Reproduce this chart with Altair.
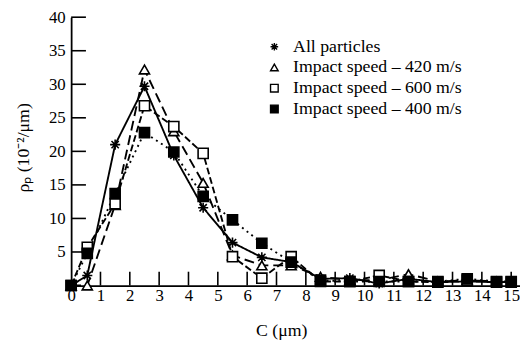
import altair as alt
import pandas as pd

# ---- data ----
C = [0, 0.55, 1.5, 2.5, 3.5, 4.5, 5.5, 6.5, 7.5, 8.5, 9.5, 10.5, 11.5, 12.5, 13.5, 14.5, 15.0]
all_particles = [0, 1.5, 21.0, 29.7, 19.4, 11.6, 6.4, 4.2, 3.5, 1.0, 1.1, 0.3, 1.0, 0.5, 0.6, 0.5, 0.5]
speed_420 = [0, 0, 12.0, 32.2, 23.0, 15.3, 4.5, 3.0, 3.0, 1.3, 0.8, 0.8, 1.7, 0.6, 0.8, 0.6, 0.6]
speed_600 = [0, 5.7, 12.2, 26.8, 23.7, 19.7, 4.3, 1.1, 4.3, 0.6, 0.6, 1.5, 0.6, 0.5, 0.8, 0.5, 0.5]
speed_400 = [0, 4.8, 13.7, 22.8, 19.9, 13.3, 9.8, 6.3, 3.5, 0.8, 0.6, 0.6, 0.6, 0.6, 1.0, 0.6, 0.6]

SERIES = ["All particles", "Impact speed \u2013 420 m/s", "Impact speed \u2013 600 m/s", "Impact speed \u2013 400 m/s"]
X_TICKS = list(range(0, 16))
Y_TICKS = [5, 10, 15, 20, 25, 30, 35, 40]

rows = []
for name, vals in zip(SERIES, [all_particles, speed_420, speed_600, speed_400]):
    for c, v in zip(C, vals):
        rows.append({"C": c, "rho": v, "series": name, "style": name})
df = pd.DataFrame(rows)
xt = pd.DataFrame({"C": X_TICKS[1:]})
yt = pd.DataFrame({"rho": Y_TICKS})

FONT = "Liberation Serif"
W, H = 455, 272
xscale = alt.Scale(domain=[0, 15.3], nice=False, zero=False)
yscale = alt.Scale(domain=[0, 40], nice=False)

xaxis = alt.Axis(values=X_TICKS, tickSize=0, grid=False, labelFont=FONT, labelFontSize=17,
                 labelPadding=2, domainColor="black", domainWidth=1.8, labelColor="black",
                 title="C (\u03bcm)", titleFont=FONT, titleFontSize=18, titleFontWeight="normal",
                 titleX=213, titleY=46, titleBaseline="middle", titleAlign="center",
                 titleColor="black", labelFlush=False)
yaxis = alt.Axis(values=Y_TICKS, tickSize=0, grid=False, labelFont=FONT, labelFontSize=17,
                 labelPadding=6, domainColor="black", domainWidth=1.8, labelColor="black",
                 title="\u03c1\u209a (10\u207b\u00b2/\u03bcm)", titleFont=FONT, titleFontSize=18,
                 titleFontWeight="normal", titleX=-48, titleY=132, titleAngle=270,
                 titleBaseline="middle", titleAlign="center", titleColor="black")

STAR = "M-1,0L1,0M0,-1L0,1M-0.72,-0.72L0.72,0.72M-0.72,0.72L0.72,-0.72"
SHAPES = [STAR, "triangle-up", "square", "square"]
FILLS = ["black", "white", "white", "black"]
DASHES = [[1, 0], [10, 5], [7, 3], [2, 4]]

lines = alt.Chart(df).mark_line(color="black", strokeWidth=1.9).encode(
    x=alt.X("C:Q", scale=xscale, axis=xaxis),
    y=alt.Y("rho:Q", scale=yscale, axis=yaxis),
    detail="style:N",
    strokeDash=alt.StrokeDash("style:N", scale=alt.Scale(domain=SERIES, range=DASHES), legend=None),
)

points = alt.Chart(df).mark_point(filled=True, stroke="black", strokeWidth=1.6, opacity=1, size=105).encode(
    x=alt.X("C:Q", scale=xscale, axis=xaxis),
    y=alt.Y("rho:Q", scale=yscale, axis=yaxis),
    shape=alt.Shape("series:N", scale=alt.Scale(domain=SERIES, range=SHAPES), legend=None),
    fill=alt.Fill("series:N", scale=alt.Scale(domain=SERIES, range=FILLS), legend=None),
)

xticks = alt.Chart(xt).mark_rule(color="black", strokeWidth=1.6).encode(
    x=alt.X("C:Q", scale=xscale, axis=xaxis),
    y=alt.value(H),
    y2=alt.value(H - 14),
)
yticks = alt.Chart(yt).mark_rule(color="black", strokeWidth=1.6).encode(
    y=alt.Y("rho:Q", scale=yscale, axis=yaxis),
    x=alt.value(0),
    x2=alt.value(15),
)

# manual legend (top right, inside the plot)
legend_layers = []
for i, name in enumerate(SERIES):
    ldf = pd.DataFrame({"series": [name]})
    ypix = 30 + 21 * i
    sym = alt.Chart(ldf).mark_point(shape=SHAPES[i], filled=True, fill=FILLS[i], stroke="black",
                                    strokeWidth=1.4, opacity=1, size=60).encode(
        x=alt.value(206), y=alt.value(ypix))
    txt = alt.Chart(ldf).mark_text(align="left", baseline="middle", font=FONT, fontSize=18,
                                   color="black").encode(
        text="series:N", x=alt.value(225), y=alt.value(ypix))
    legend_layers += [sym, txt]

chart = alt.layer(lines, xticks, yticks, points, *legend_layers).properties(
    width=W, height=H,
    autosize=alt.AutoSizeParams(type="none"),
    padding={"left": 64, "top": 7, "right": 0, "bottom": 60},
    background="white",
).configure_view(stroke=None)

chart.save("out.html", embed_options={"renderer": "svg", "actions": False})
